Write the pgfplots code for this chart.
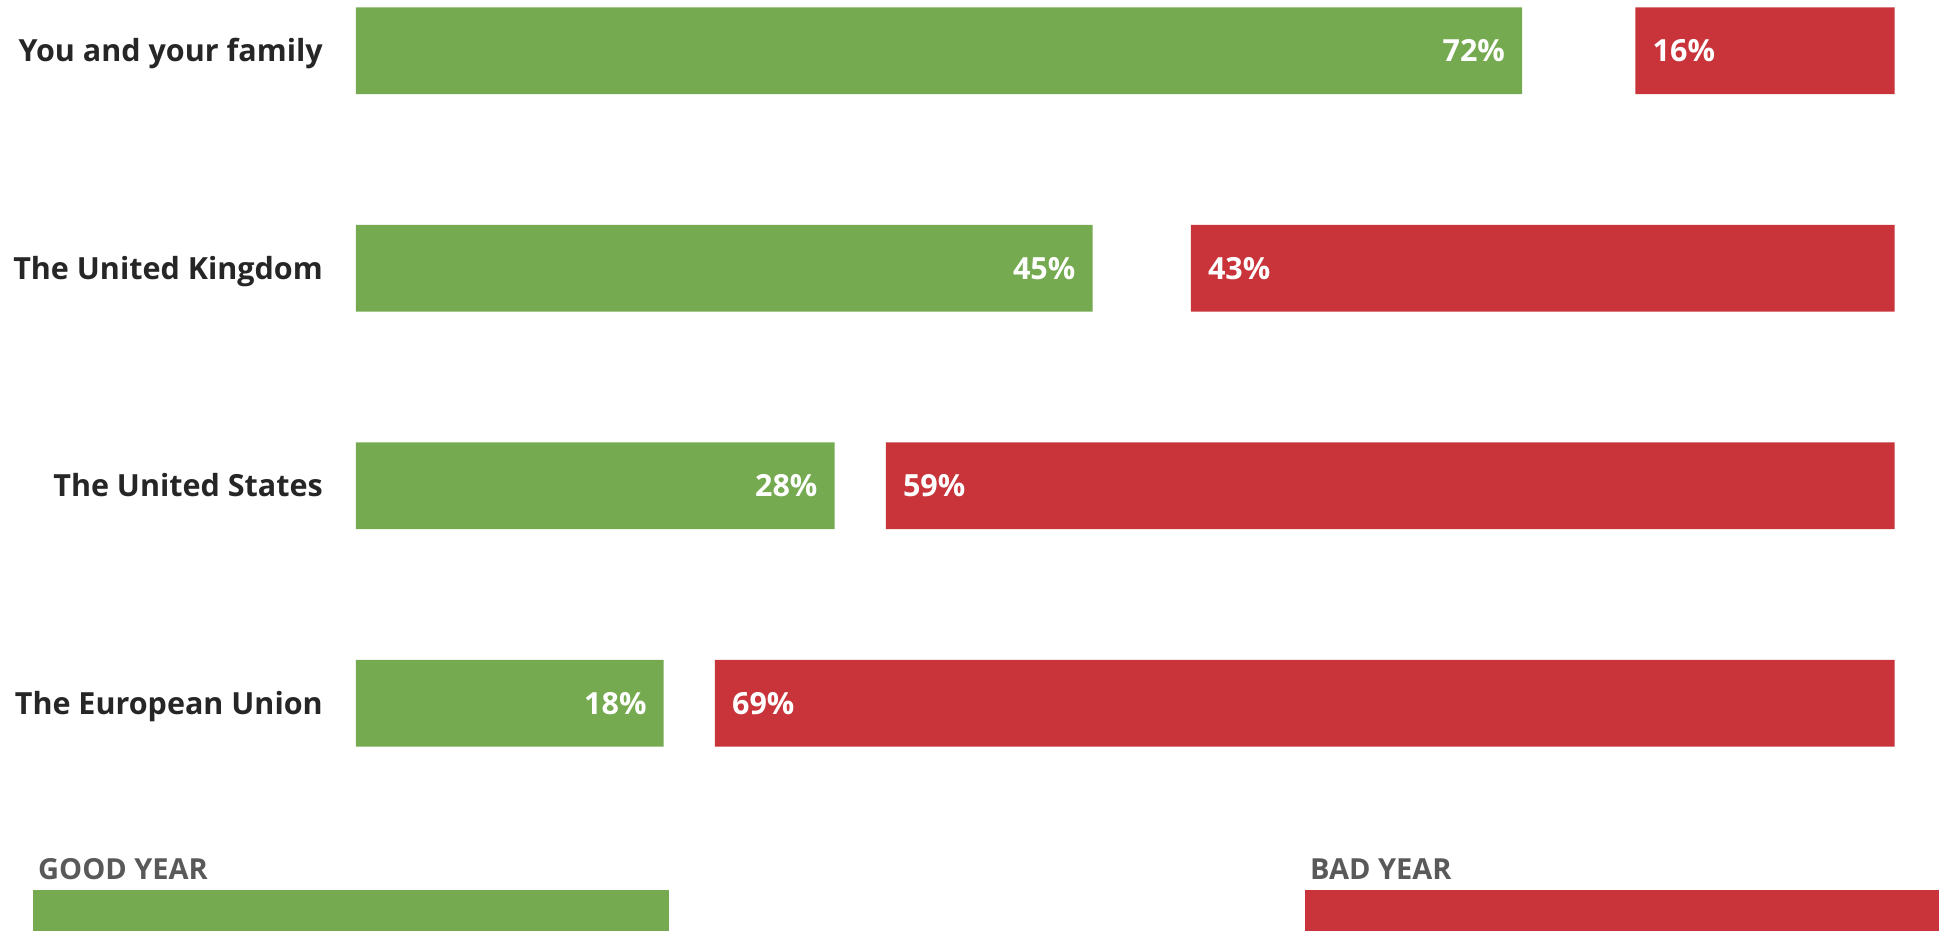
\documentclass[border=0pt]{standalone}
\usepackage{pgfplots}
\pgfplotsset{compat=1.18}
\usepackage{pgfplotstable}
\usepackage{fontspec}
\setmainfont{Open Sans}
\definecolor{good}{HTML}{75AA51}
\definecolor{bad}{HTML}{C9343B}
\definecolor{lab}{HTML}{262626}
\definecolor{leg}{HTML}{595959}

% bar lengths, each row scaled to the full width (100); labels are the shares in %
\pgfplotstableread[col sep=comma]{
row,good,bad,glab,blab
0,75.79,16.84,72,16
1,47.87,45.74,45,43
2,31.11,65.56,28,59
3,20.00,76.67,18,69
}\data

\newcommand{\bigfont}{\bfseries\fontsize{30.5}{30.5}\selectfont}
\newcommand{\legfont}{\bfseries\fontsize{29}{29}\selectfont}

\tikzset{lbl/.style={inner sep=0pt, text=white, font=\bigfont, text height=22pt, text depth=0pt}}

\pgfplotsset{
  common/.style={
    at={(356pt,-7.2pt)}, anchor=north west,
    scale only axis, width=1538.6pt, height=739.5pt,
    xbar, bar width=86.7pt,
    xmin=0, xmax=100, ymin=-0.2, ymax=3.2, y dir=reverse,
    xtick=\empty,
    axis line style={draw=none}, major tick length=0pt,
    clip=false,
  },
}

\begin{document}
\begin{tikzpicture}
\path[use as bounding box] (0pt,0pt) rectangle (1939pt,-930pt);
\begin{axis}[common,
  ytick={0,1,2,3},
  yticklabels={You and your family,The United Kingdom,The United States,The European Union},
  yticklabel style={anchor=east, inner sep=0pt, xshift=-33pt, font=\bigfont, text=lab, text height=22pt, text depth=0pt},
]
\addplot[fill=good, draw=none, point meta=explicit symbolic,
  nodes near coords={\pgfplotspointmeta\%},
  every node near coord/.append style={lbl, anchor=east, xshift=-17pt}]
  table[x=good, y=row, meta=glab] {\data};
\end{axis}
\begin{axis}[common, x dir=reverse, ytick=\empty]
\addplot[fill=bad, draw=none, point meta=explicit symbolic,
  nodes near coords={\pgfplotspointmeta\%},
  every node near coord/.append style={lbl, anchor=west, xshift=17pt}]
  table[x=bad, y=row, meta=blab] {\data};
\end{axis}
\fill[good] (33pt,-890pt) rectangle (669pt,-940pt);
\fill[bad] (1305pt,-890pt) rectangle (1945pt,-940pt);
\node[anchor=base west, inner sep=0pt, text=leg, font=\legfont] at (38pt,-879pt) {GOOD YEAR};
\node[anchor=base west, inner sep=0pt, text=leg, font=\legfont] at (1310pt,-879pt) {BAD YEAR};
\end{tikzpicture}
\end{document}
